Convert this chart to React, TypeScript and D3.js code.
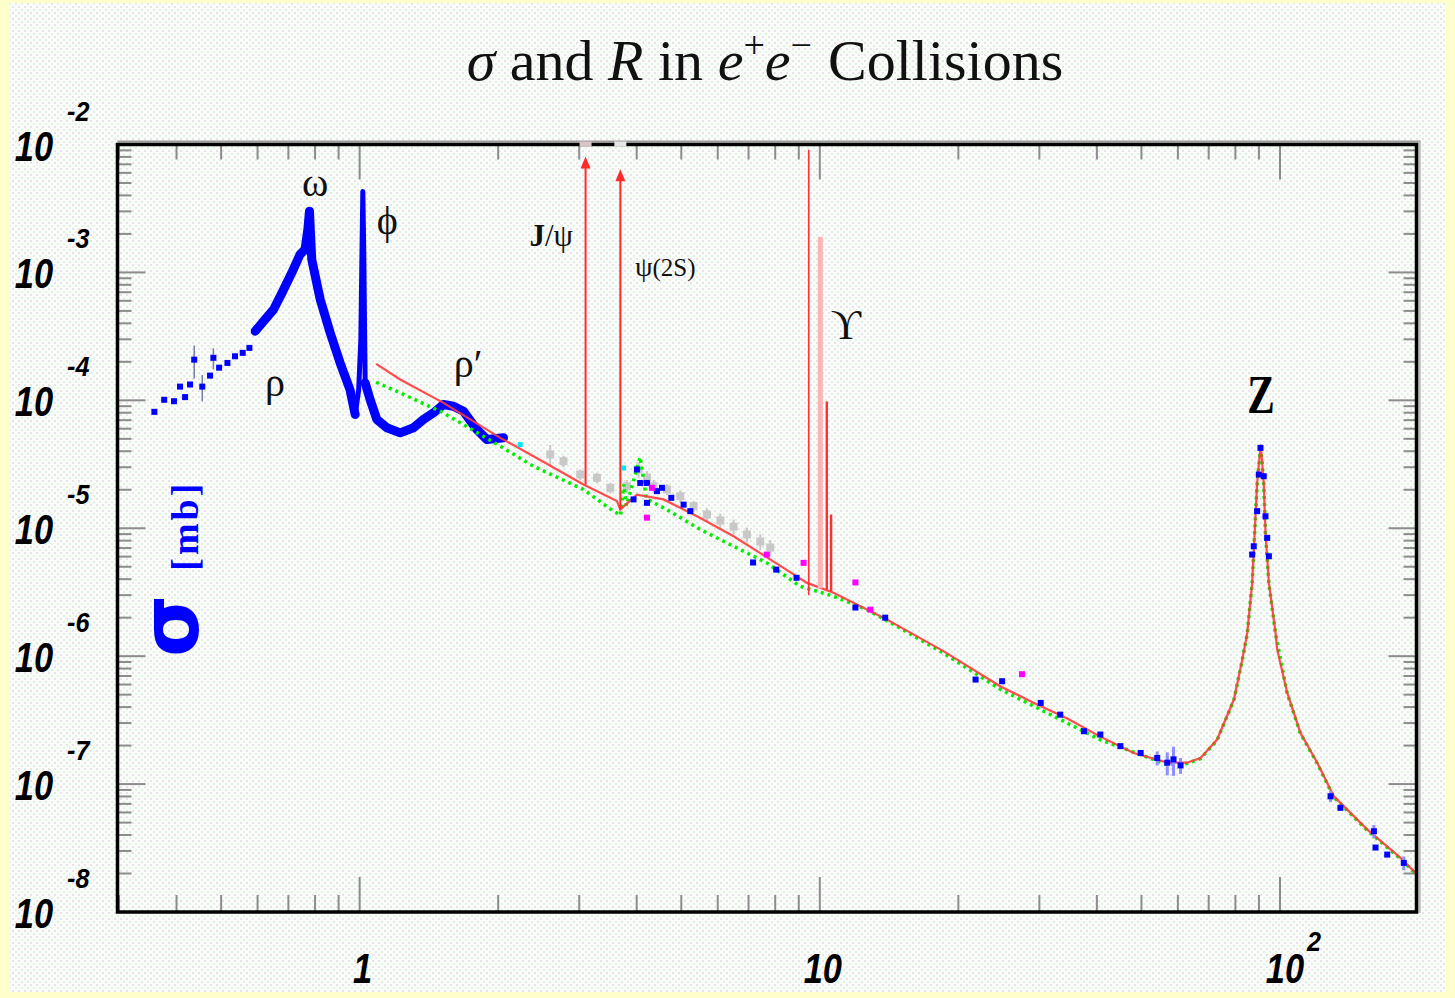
import React from "react";
import * as d3 from "d3";

// energies in GeV, cross sections in mb
const lowSparse: [number, number, number][] = [
  [0.358, 8.13e-5, 0], [0.376, 1.01e-4, 0], [0.395, 9.84e-5, 0], [0.407, 1.28e-4, 0],
  [0.4175, 1.06e-4, 0], [0.428, 1.33e-4, 0], [0.437, 2.08e-4, 0.6e-4], [0.455, 1.28e-4, 0.3e-4],
  [0.473, 1.56e-4, 0], [0.481, 2.15e-4, 0.4e-4], [0.495, 1.8e-4, 0], [0.516, 1.96e-4, 0],
  [0.536, 2.21e-4, 0], [0.557, 2.35e-4, 0], [0.576, 2.57e-4, 0],
];
const rhoOmegaBand: [number, number][] = [
  [0.593, 3.47e-4], [0.618, 4.15e-4], [0.65, 5.13e-4], [0.678, 6.92e-4], [0.712, 9.93e-4],
  [0.742, 1.38e-3], [0.761, 1.51e-3], [0.772, 2.2e-3], [0.778, 3.01e-3], [0.782, 2.0e-3],
  [0.787, 1.26e-3], [0.821, 6.14e-4], [0.863, 3.37e-4], [0.907, 1.96e-4], [0.953, 1.21e-4],
  [0.978, 7.74e-5],
];
const phiPeak: [number, number][] = [
  [0.978, 7.74e-5], [0.995, 1.2e-4], [1.006, 3.0e-4], [1.011, 1.2e-3], [1.016, 4.3e-3],
  [1.021, 1.4e-3], [1.025, 3.5e-4], [1.028, 1.37e-4],
];
const rhoPrimeBand: [number, number][] = [
  [1.028, 1.37e-4], [1.054, 1.01e-4], [1.09, 7.08e-5], [1.146, 6.1e-5], [1.225, 5.57e-5],
  [1.309, 6.1e-5], [1.376, 7.08e-5], [1.447, 7.98e-5], [1.521, 9.27e-5], [1.599, 8.99e-5],
  [1.681, 8.22e-5], [1.798, 5.91e-5], [1.89, 4.94e-5], [2.054, 5.09e-5],
];
const pqcd: [number, number][] = [
  [1.086, 1.93e-4], [1.225, 1.455e-4], [1.521, 9.56e-5], [2.021, 5.09e-5], [2.387, 3.66e-5],
  [3.065, 2.2e-5], [3.624, 1.63e-5], [3.686, 1.4e-5], [3.8, 1.55e-5], [4.005, 1.83e-5],
  [4.575, 1.68e-5], [5.41, 1.24e-5], [6.495, 8.66e-6], [8.34, 4.9e-6], [9.38, 3.74e-6],
  [10.71, 3.13e-6], [14.0, 1.93e-6], [18.6, 1.09e-6], [24.7, 5.8e-7], [29.2, 4.31e-7],
  [34.5, 3.25e-7], [40.7, 2.35e-7], [48.1, 1.75e-7], [56.9, 1.47e-7], [62.8, 1.47e-7],
  [67.2, 1.6e-7], [73.0, 2.23e-7], [79.4, 4.58e-7], [82.8, 9.4e-7], [84.9, 1.52e-6],
  [87.0, 3.74e-6], [88.1, 9.2e-6], [89.2, 2.26e-5], [90.8, 4.5e-5], [92.2, 2.26e-5],
  [93.0, 9.2e-6], [94.6, 3.74e-6], [97.8, 1.52e-6], [98.6, 1.13e-6], [103.7, 5.16e-7],
  [110.8, 2.51e-7], [120.5, 1.47e-7], [130.9, 8.03e-8], [154.8, 4.41e-8], [182.8, 2.65e-8],
  [197.1, 2.02e-8],
];
const partonModel: [number, number][] = [
  [1.086, 1.385e-4], [1.225, 1.145e-4], [1.521, 7.98e-5], [2.021, 4.38e-5], [2.387, 3.05e-5],
  [3.065, 2.01e-5], [3.56, 1.36e-5], [3.69, 1.26e-5], [3.75, 2.2e-5], [3.8, 1.5e-5],
  [4.07, 3.6e-5], [4.2, 1.7e-5], [4.65, 1.4e-5], [5.5, 9.77e-6], [6.495, 7.23e-6],
  [7.67, 5.36e-6], [9.06, 3.52e-6], [10.71, 2.94e-6], [12.66, 2.31e-6], [14.9, 1.67e-6],
  [18.6, 1.05e-6], [24.7, 5.5e-7], [40.7, 2.22e-7], [56.9, 1.42e-7], [62.8, 1.45e-7],
  [67.2, 1.58e-7], [73.0, 2.2e-7], [79.4, 4.55e-7], [82.8, 9.3e-7], [84.9, 1.5e-6],
  [87.0, 3.7e-6], [88.1, 9.1e-6], [89.2, 2.24e-5], [90.8, 4.45e-5], [92.2, 2.24e-5],
  [93.0, 9.1e-6], [94.6, 3.7e-6], [97.8, 1.5e-6], [103.7, 5.1e-7], [110.8, 2.48e-7],
  [120.5, 1.45e-7], [130.9, 7.9e-8], [154.8, 4.35e-8], [182.8, 2.6e-8], [197.1, 2.0e-8],
];
const grayData: [number, number, number][] = [
  [2.595, 3.77e-5, 7e-6], [2.773, 3.34e-5, 3.5e-6], [3.016, 2.63e-5, 2.5e-6], [3.279, 2.48e-5, 2.3e-6],
  [3.505, 2.07e-5, 2e-6], [3.81, 2.13e-5, 2.5e-6], [4.037, 2.88e-5, 4e-6], [4.211, 2.49e-5, 3e-6],
  [4.352, 2.13e-5, 2.5e-6], [4.654, 2.01e-5, 2e-6], [4.974, 1.78e-5, 2e-6], [5.318, 1.49e-5, 1.5e-6],
  [5.686, 1.28e-5, 1.5e-6], [6.078, 1.15e-5, 1.5e-6], [6.495, 1.03e-5, 1.4e-6], [6.944, 8.93e-6, 1.2e-6],
  [7.424, 7.87e-6, 1.1e-6], [7.805, 7.06e-6, 1e-6],
];
const blueData: [number, number, number][] = [
  [3.937, 1.68e-5, 0], [4.005, 2.88e-5, 0], [4.072, 2.26e-5, 0], [4.211, 2.26e-5, 0], [4.211, 1.58e-5, 0],
  [4.427, 1.95e-5, 0], [4.539, 2.07e-5, 0], [4.756, 1.73e-5, 0], [5.058, 1.53e-5, 0], [5.231, 1.36e-5, 0],
  [7.16, 5.4e-6, 0], [8.04, 4.75e-6, 0], [8.9, 4.1e-6, 0], [11.95, 2.4e-6, 0], [13.87, 2.0e-6, 0],
  [21.8, 6.56e-7, 0], [24.9, 6.37e-7, 0], [30.2, 4.31e-7, 0], [33.3, 3.49e-7, 0], [37.5, 2.59e-7, 0],
  [40.7, 2.44e-7, 0], [45.0, 1.98e-7, 0], [49.8, 1.75e-7, 0], [54.1, 1.6e-7, 2e-8], [56.9, 1.47e-7, 3e-8],
  [58.7, 1.56e-7, 4e-8], [60.8, 1.4e-7, 2e-8],
  [87.0, 6.23e-6, 0], [87.7, 7.23e-6, 0], [89.2, 1.36e-5, 0], [89.95, 2.63e-5, 0], [90.7, 4.25e-5, 0],
  [92.2, 2.55e-5, 0], [93.0, 1.24e-5, 0], [93.8, 8.41e-6, 0], [94.6, 6.04e-6, 0],
  [128.8, 8.03e-8, 8e-9], [135.3, 6.52e-8, 0], [160, 4.28e-8, 5e-9], [161.3, 3.19e-8, 0],
  [171, 2.81e-8, 0], [185.8, 2.42e-8, 3e-9],
];
const magentaData: [number, number][] = [
  [4.211, 1.21e-5], [4.317, 2.07e-5], [7.67, 6.22e-6], [9.22, 5.36e-6], [11.95, 3.77e-6],
  [12.88, 2.31e-6], [27.5, 7.23e-7],
];
const cyanData: [number, number][] = [[2.233, 4.51e-5], [3.746, 2.96e-5]];

// narrow resonances drawn as spikes on the pQCD curve
const resonances = [
  { E: 3.097, base: 2.2e-5, top: 8.05e-3, kind: "arrow" },
  { E: 3.686, base: 1.4e-5, top: 6.4e-3, kind: "arrow" },
  { E: 9.46, base: 3.0e-6, top: 9.1e-3, kind: "thin" },
  { E: 10.023, base: 3.4e-6, top: 1.9e-3, kind: "pink" },
  { E: 10.355, base: 3.3e-6, top: 9.8e-5, kind: "red" },
  { E: 10.58, base: 3.2e-6, top: 1.28e-5, kind: "red" },
];

const peakLabels = [
  { text: "ω", E: 0.8, s: 3.99e-3, size: 40 },
  { text: "ϕ", E: 1.148, s: 2.01e-3, size: 40 },
  { text: "ρ", E: 0.655, s: 1.09e-4, size: 40 },
  { text: "ρ′", E: 1.721, s: 1.51e-4, size: 40 },
  { text: "ϒ", E: 11.39, s: 2.99e-4, size: 42 },
];

const W = 1455, H = 998;
const L = 117.5, R = 1416.5, T = 144.5, B = 912;

export default function App() {
  const x = d3.scaleLog().domain([0.2977, 198]).range([L, R]);
  const y = d3.scaleLog().domain([1e-8, 1e-2]).range([B, T]);
  const line = d3.line<[number, number]>().x(d => x(d[0])).y(d => y(d[1]));
  const isMajor = (t: number) => Math.abs(Math.log10(t) - Math.round(Math.log10(t))) < 1e-6;
  const xTicks = x.ticks().filter(t => t > 0.2977 && t < 198);
  const yTicks = y.ticks().filter(t => t > 1e-8 * 1.001 && t < 1e-2 * 0.999);
  const yMajor = y.ticks().filter(isMajor);
  const xMajor = xTicks.filter(isMajor);
  const tickCol = "#8c8c8c";
  const labFont = "'Liberation Sans', Arial, sans-serif";
  const serif = "'Liberation Serif', 'DejaVu Serif', serif";
  const sq = 6;

  return (
    <div style={{ position: "absolute", left: 0, top: 0 }}>
      <svg width={W} height={H} style={{ display: "block" }}>
        <defs>
          <pattern id="tex" width="6" height="6" patternUnits="userSpaceOnUse">
            <rect width="6" height="6" fill="#fbfbfb" />
            <rect x="0" y="0" width="2" height="2" fill="#e5e5e5" />
            <rect x="3" y="3" width="2" height="2" fill="#dcf6dc" />
          </pattern>
          <clipPath id="plot"><rect x={L} y={T} width={R - L} height={B - T} /></clipPath>
        </defs>
        <rect width={W} height={H} fill="#ffffcc" />
        <rect x={10} y={3} width={1436} height={989} fill="url(#tex)" />

        {/* title */}
        <text x={765} y={80} textAnchor="middle" fontFamily={serif} fontSize={58} fill="#111">
          <tspan fontStyle="italic">σ</tspan>
          <tspan>{" and "}</tspan>
          <tspan fontStyle="italic">R</tspan>
          <tspan>{" in "}</tspan>
          <tspan fontStyle="italic">e</tspan>
          <tspan fontSize={38} dy={-22}>+</tspan>
          <tspan fontStyle="italic" dy={22}>e</tspan>
          <tspan fontSize={38} dy={-22}>−</tspan>
          <tspan dy={22} dx={16}>Collisions</tspan>
        </text>

        {/* ticks */}
        <g stroke={tickCol} strokeWidth={2}>
          {xTicks.map(t => {
            const m = isMajor(t);
            return (
              <g key={"x" + t}>
                <line x1={x(t)} x2={x(t)} y1={B} y2={B - (m ? 35 : 17)} />
                <line x1={x(t)} x2={x(t)} y1={T} y2={T + (m ? 35 : 15)} />
              </g>
            );
          })}
          {yTicks.map(t => {
            const m = isMajor(t);
            return (
              <g key={"y" + t}>
                <line x1={L} x2={L + (m ? 28 : 14)} y1={y(t)} y2={y(t)} />
                <line x1={R} x2={R - (m ? 28 : 13)} y1={y(t)} y2={y(t)} />
              </g>
            );
          })}
        </g>

        <g clipPath="url(#plot)">
          {/* gray data */}
          <g fill="#c8c8c8" stroke="#c8c8c8" strokeWidth={2}>
            {grayData.map((d, i) => (
              <g key={"g" + i}>
                <line x1={x(d[0])} x2={x(d[0])} y1={y(d[1] - d[2])} y2={y(d[1] + d[2])} />
                <rect x={x(d[0]) - 4} y={y(d[1]) - 4} width={8} height={8} stroke="none" />
              </g>
            ))}
          </g>

          {/* low energy data */}
          <g fill="#0000ff">
            {lowSparse.map((d, i) => (
              <g key={"l" + i}>
                {d[2] > 0 && (
                  <line x1={x(d[0])} x2={x(d[0])} y1={y(d[1] - d[2])} y2={y(d[1] + d[2])}
                    stroke="#7080a0" strokeWidth={1.5} />
                )}
                <rect x={x(d[0]) - sq / 2} y={y(d[1]) - sq / 2} width={sq} height={sq} />
              </g>
            ))}
          </g>
          <path d={line(rhoOmegaBand) || ""} fill="none" stroke="#0000ff" strokeWidth={9}
            strokeLinejoin="round" strokeLinecap="round" />
          <path d={line(phiPeak) || ""} fill="none" stroke="#0000ff" strokeWidth={5}
            strokeLinejoin="round" strokeLinecap="round" />
          <path d={line(rhoPrimeBand) || ""} fill="none" stroke="#0000ff" strokeWidth={9}
            strokeLinejoin="round" strokeLinecap="round" />

          {/* parton model and pQCD curves */}
          <path d={line(partonModel) || ""} fill="none" stroke="#00ee00" strokeWidth={3.5}
            strokeDasharray="3 4" />
          <path d={line(pqcd) || ""} fill="none" stroke="#ff3a3a" strokeWidth={2.2} opacity={0.9} />

          {/* resonances */}
          {resonances.map((r, i) => {
            const cx = x(r.E);
            if (r.kind === "arrow") {
              const tip = y(r.top);
              return (
                <g key={"r" + i}>
                  <line x1={cx} x2={cx} y1={y(r.base)} y2={tip + 10} stroke="#ff2a2a" strokeWidth={2} />
                  <path d={`M${cx},${tip} L${cx - 5},${tip + 12} L${cx + 5},${tip + 12} Z`} fill="#ff2a2a" />
                </g>
              );
            }
            const wdt = r.kind === "pink" ? 5 : r.kind === "thin" ? 1.6 : 2.4;
            const col = r.kind === "pink" ? "#ffb4b4" : "#ff3030";
            return (
              <line key={"r" + i} x1={cx} x2={cx} y1={y(r.base)} y2={y(r.top)} stroke={col} strokeWidth={wdt} />
            );
          })}

          {/* other data */}
          <g>
            {blueData.map((d, i) => (
              <g key={"b" + i}>
                {d[2] > 0 && (
                  <line x1={x(d[0])} x2={x(d[0])} y1={y(d[1] - d[2])} y2={y(d[1] + d[2])}
                    stroke="#8f8fff" strokeWidth={3} />
                )}
                <rect x={x(d[0]) - sq / 2} y={y(d[1]) - sq / 2} width={sq} height={sq} fill="#0000ff" />
              </g>
            ))}
            {magentaData.map((d, i) => (
              <rect key={"m" + i} x={x(d[0]) - 3} y={y(d[1]) - 3} width={6} height={6} fill="#ff00ff" />
            ))}
            {cyanData.map((d, i) => (
              <rect key={"c" + i} x={x(d[0]) - 2.5} y={y(d[1]) - 2.5} width={5} height={5} fill="#00e8ff" />
            ))}
          </g>
        </g>

        {/* frame */}
        <line x1={L} x2={R + 4} y1={T - 3} y2={T - 3} stroke="#999" strokeWidth={2} />
        <line x1={R + 3} x2={R + 3} y1={T - 3} y2={B + 1} stroke="#bbb" strokeWidth={2.5} />
        <rect x={L} y={T} width={R - L} height={B - T} fill="none" stroke="#000" strokeWidth={3.5} />
        {resonances.filter(r => r.kind === "arrow").map((r, i) => (
          <rect key={"top" + i} x={x(r.E) - 6} y={T - 3} width={12} height={5} fill={i === 0 ? "#d6c6c6" : "#e6e6e6"} />
        ))}

        {/* y tick labels */}
        {yMajor.map(t => {
          const e = Math.round(Math.log10(t));
          return (
            <g key={"yl" + t} fontFamily={labFont} fontWeight="bold" fontStyle="italic" fill="#000">
              <text transform={`translate(34,${y(t) + 16}) scale(0.82,1)`} textAnchor="middle" fontSize={42}>10</text>
              <text transform={`translate(67,${y(t) - 24}) scale(0.9,1)`} fontSize={28}>{"-" + Math.abs(e)}</text>
            </g>
          );
        })}

        {/* x tick labels */}
        {xMajor.map(t => {
          const e = Math.round(Math.log10(t));
          return (
            <g key={"xl" + t} fontFamily={labFont} fontWeight="bold" fontStyle="italic" fill="#000">
              {e < 2 ? (
                <text transform={`translate(${x(t) + 3},983) scale(0.82,1)`} textAnchor="middle" fontSize={42}>
                  {e === 0 ? "1" : "10"}
                </text>
              ) : (
                <>
                  <text transform={`translate(${x(t) + 5},983) scale(0.82,1)`} textAnchor="middle" fontSize={42}>10</text>
                  <text transform={`translate(${x(t) + 27},951) scale(0.9,1)`} fontSize={28}>{String(e)}</text>
                </>
              )}
            </g>
          );
        })}

        {/* peak labels */}
        {peakLabels.map(p => (
          <text key={p.text} x={x(p.E)} y={y(p.s)} textAnchor="middle" fontFamily={serif}
            fontSize={p.size} fill="#111">{p.text}</text>
        ))}
        <text x={x(2.608)} y={y(1.6e-3)} textAnchor="middle" fontFamily={serif} fontSize={31} fill="#111">
          <tspan fontWeight="bold">J</tspan><tspan>/ψ</tspan>
        </text>
        <text x={x(4.615)} y={y(9.46e-4)} textAnchor="middle" fontFamily={serif} fontSize={28} fill="#111">
          <tspan>ψ</tspan><tspan fontSize={25}>(2S)</tspan>
        </text>
        <text transform={`translate(${x(90.9)},${y(8.03e-5)}) scale(0.75,1)`} textAnchor="middle"
          fontFamily={serif} fontWeight="bold" fontSize={55} fill="#000">Z</text>

        {/* y axis title */}
        <text transform="translate(198,657) rotate(-90)" fill="#0000ff">
          <tspan fontFamily="'DejaVu Sans', sans-serif" fontWeight="bold" fontSize={80}>σ</tspan>
          <tspan fontFamily={serif} fontWeight="bold" fontSize={38} dx={24} letterSpacing={3}>[mb]</tspan>
        </text>
      </svg>
    </div>
  );
}
